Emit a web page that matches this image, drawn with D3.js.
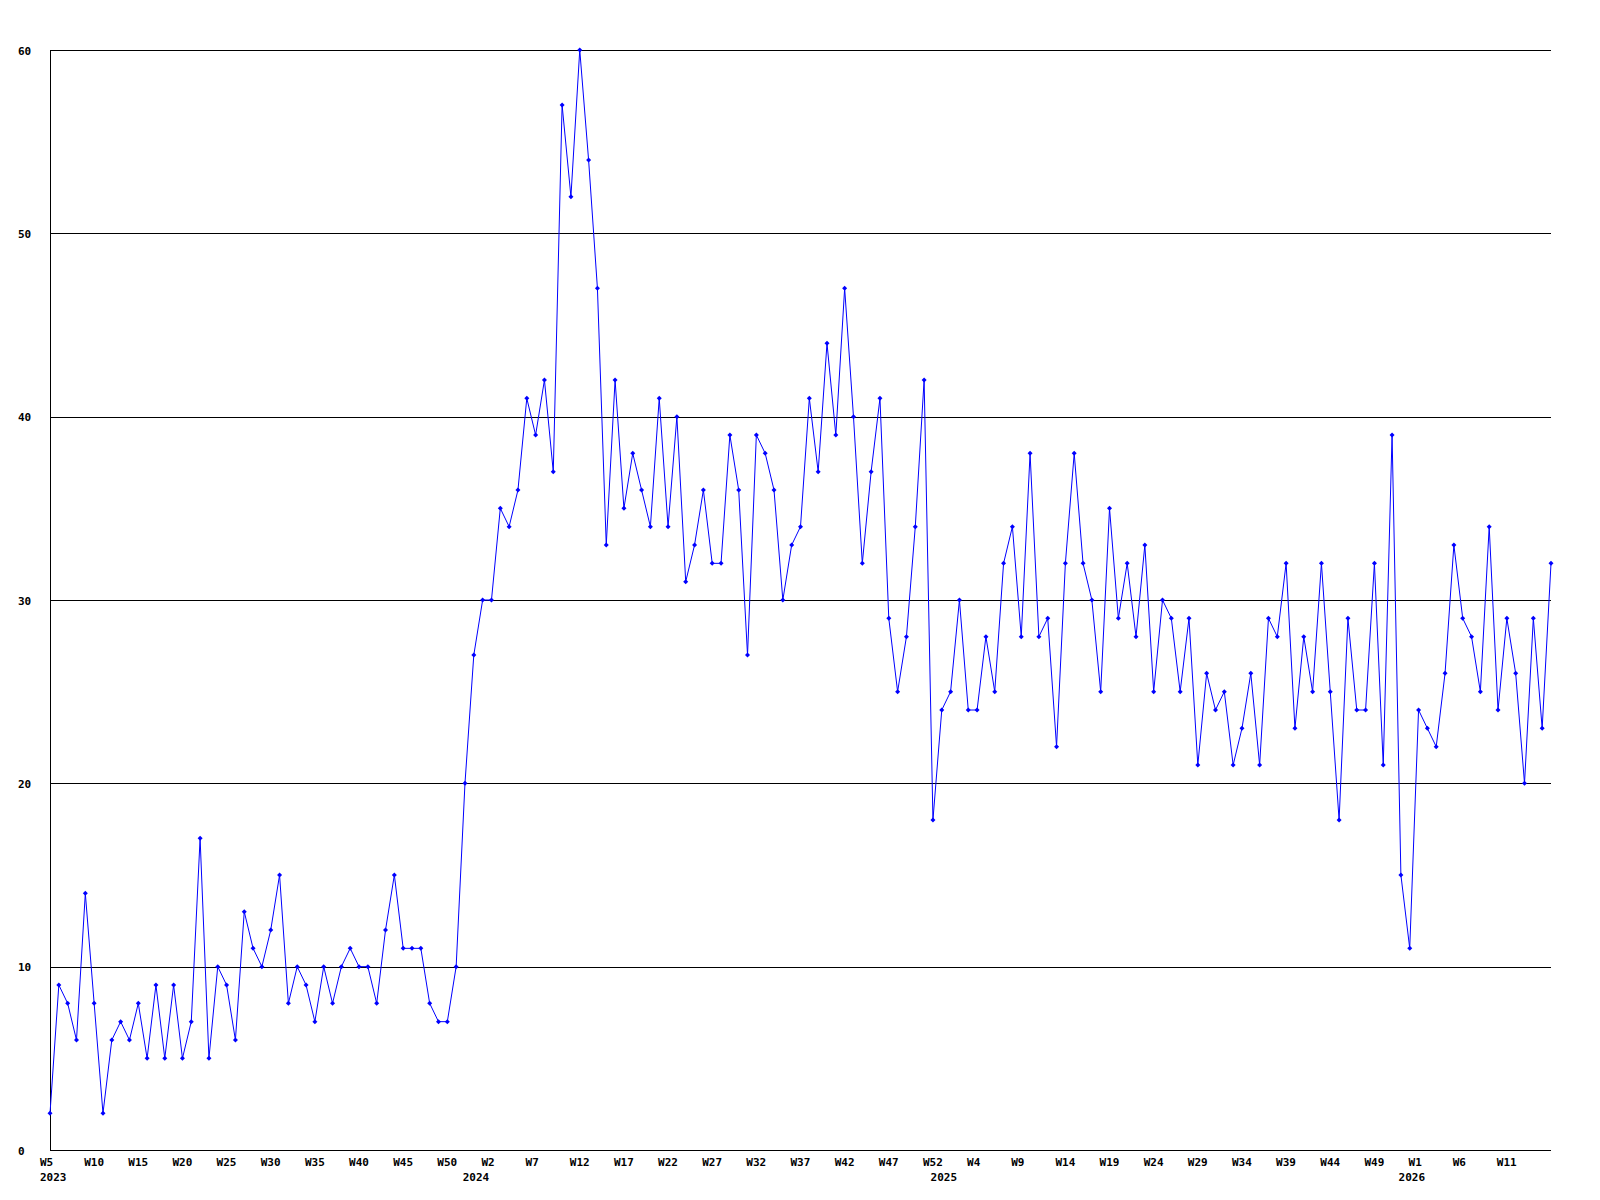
<!DOCTYPE html>
<html><head><meta charset="utf-8">
<script src="https://cdn.jsdelivr.net/npm/d3@7"></script>
<style>body{margin:0;background:#fff}</style>
</head><body><svg id="c" width="1600" height="1200" style="background:#fff"></svg>
<script>
const values = [
  2,9,8,6,14,8,2,6,7,6, 8,5,9,5,9,5,7,17,5,10,
  9,6,13,11,10,12,15,8,10,9, 7,10,8,10,11,10,10,8,12,15,
  11,11,11,8,7,7,10,20,27,30, 30,35,34,36,41,39,42,37,57,52,
  60,54,47,33,42,35,38,36,34,41, 34,40,31,33,36,32,32,39,36,27,
  39,38,36,30,33,34,41,37,44,39, 47,40,32,37,41,29,25,28,34,42,
  18,24,25,30,24,24,28,25,32,34, 28,38,28,29,22,32,38,32,30,25,
  35,29,32,28,33,25,30,29,25,29, 21,26,24,25,21,23,26,21,29,28,
  32,23,28,25,32,25,18,29,24,24, 32,21,39,15,11,24,23,22,26,33,
  29,28,25,34,24,29,26,20,29,23, 32
];
const weekTickLabels = ["W5","W10","W15","W20","W25","W30","W35","W40","W45","W50",
  "W2","W7","W12","W17","W22","W27","W32","W37","W42","W47","W52",
  "W4","W9","W14","W19","W24","W29","W34","W39","W44","W49",
  "W1","W6","W11"];
const tickEvery = 5;
const yearLabels = ["2023","2024","2025","2026"];
const yearStartIndex = [0,49,102,155];
const yTicks = [0,10,20,30,40,50,60];

const svg = d3.select("#c");
const mLeft = 50, mRight = 1551, mTop = 50, mBottom = 1150;
const x = d3.scaleLinear().domain([0, values.length - 1]).range([mLeft, mRight]);
const y = d3.scaleLinear().domain([0, 60]).range([mBottom, mTop]);
const font = "'DejaVu Sans Mono', 'Liberation Mono', monospace";

svg.append("rect").attr("width",1600).attr("height",1200).attr("fill","#fff");

// y axis + gridlines
const gy = svg.append("g").attr("transform", `translate(${mLeft},0)`)
  .call(d3.axisLeft(y).tickValues(yTicks).tickSize(-(mRight - mLeft)).tickSizeOuter(0).tickFormat(d3.format("d")));
gy.attr("font-family", font).attr("font-size", 11).attr("font-weight", "bold");
gy.select(".domain").attr("stroke", "#000").attr("shape-rendering", "crispEdges");
gy.selectAll(".tick line").attr("stroke", "#000").attr("shape-rendering", "crispEdges");
gy.selectAll(".tick text").attr("x", 18 - mLeft).attr("text-anchor", "start")
  .attr("dy", null).attr("y", 4).attr("fill", "#000");

// x axis labels
const gx = svg.append("g").attr("transform", `translate(0,${mBottom})`)
  .call(d3.axisBottom(x)
    .tickValues(weekTickLabels.map((_, k) => k * tickEvery))
    .tickFormat((d, k) => weekTickLabels[k])
    .tickSize(0).tickPadding(0));
gx.attr("font-family", font).attr("font-size", 11).attr("font-weight", "bold");
gx.select(".domain").remove();
gx.selectAll(".tick text").attr("text-anchor", "start").attr("x", -10.5)
  .attr("dy", null).attr("y", 16).attr("fill", "#000");

// year labels
svg.append("g").attr("font-family", font).attr("font-size", 11).attr("font-weight", "bold")
  .selectAll("text").data(yearLabels).join("text")
  .attr("x", (d, k) => Math.max(x(yearStartIndex[k]) - 20, x(0) - 10))
  .attr("y", mBottom + 31)
  .attr("fill", "#000")
  .text(d => d);

// line
const line = d3.line().x((d, i) => x(i)).y(d => y(d));
svg.append("path").datum(values)
  .attr("d", line).attr("fill", "none").attr("stroke", "#0000ff").attr("stroke-width", 1);

// markers
const diamond = { draw(ctx, size) { const r = Math.sqrt(size) / 2;
  ctx.moveTo(0, -r); ctx.lineTo(r, 0); ctx.lineTo(0, r); ctx.lineTo(-r, 0); ctx.closePath(); } };
svg.append("g").selectAll("path").data(values).join("path")
  .attr("transform", (d, i) => `translate(${x(i)},${y(d)})`)
  .attr("d", d3.symbol().type(diamond).size(25))
  .attr("fill", "#0000ff");
</script>
</body></html>
